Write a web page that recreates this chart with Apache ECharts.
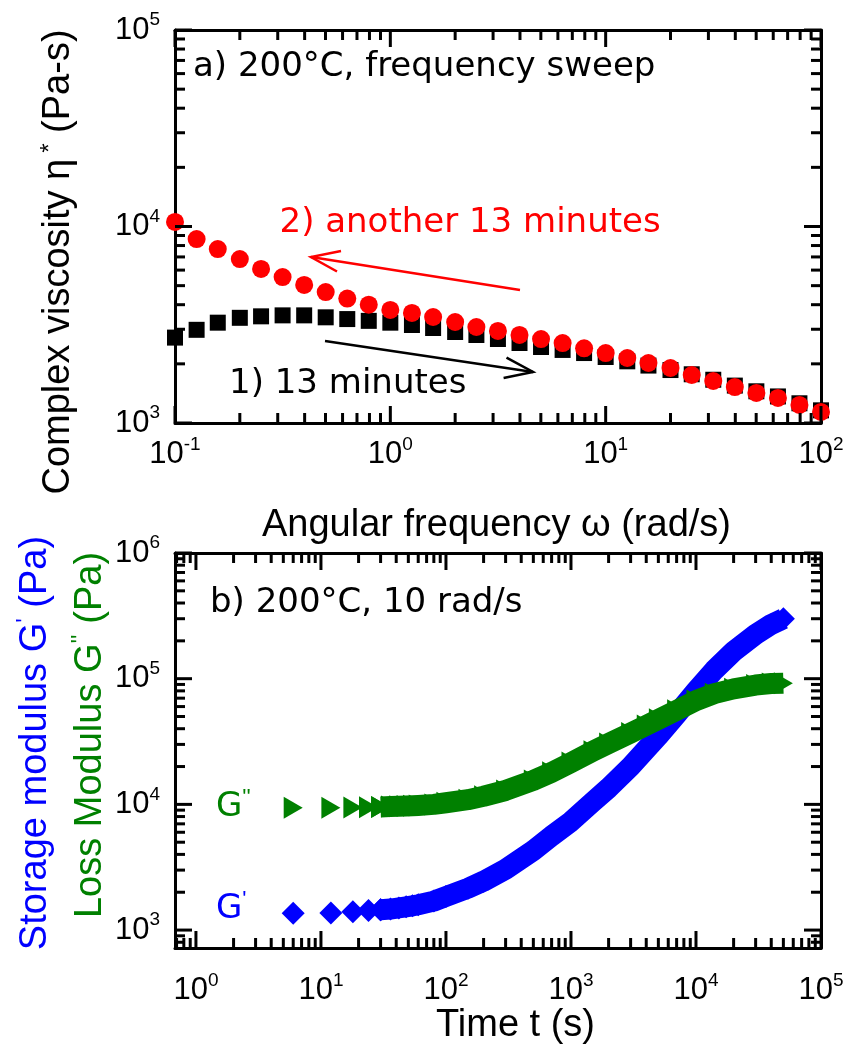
<!DOCTYPE html>
<html><head><meta charset="utf-8">
<script src="https://cdn.jsdelivr.net/npm/echarts@6/dist/echarts.min.js"></script>
<style>html,body{margin:0;padding:0;background:#fff}#c{width:856px;height:1046px}</style>
</head><body><div id="c"></div>
<script>
// ---------- data (a) frequency sweep ----------
const omega = [0.1,0.126,0.158,0.2,0.251,0.316,0.398,0.501,0.631,0.794,1,1.26,1.58,2,2.51,3.16,3.98,5.01,6.31,7.94,10,12.6,15.8,20,25.1,31.6,39.8,50.1,63.1,79.4,100];
const eta13 = [2720,2980,3240,3430,3490,3530,3530,3450,3380,3310,3240,3153,3043,2904,2805,2675,2553,2437,2354,2270,2167,2060,1960,1860,1770,1660,1550,1450,1365,1260,1160];
const etaAnother = [10545,8636,7680,6830,6080,5530,5040,4640,4300,4000,3760,3630,3463,3266,3080,2940,2805,2675,2553,2400,2270,2142,2020,1905,1755,1636,1524,1422,1341,1235,1138];
// ---------- data (b) time sweep ----------
const time = [6,12,18,24,30,36,42,48,54,60,80,100,150,200,300,500,700,1000,1500,2000,3000,4000,5000,7000,10000,14000,20000,30000,40000,50000];
const Gstorage = [1360,1370,1400,1430,1450,1470,1500,1530,1560,1590,1700,1850,2150,2450,3050,4300,5600,7300,10500,13500,20000,27500,35000,52000,80000,117000,165000,225000,270000,300000];
const Gloss = [9400,9400,9450,9500,9550,9600,9650,9700,9750,9800,10000,10300,10900,11600,12900,15500,18000,21500,26500,30500,37000,42500,47500,56000,67000,76000,83000,89000,91500,92000];
// ---------- tick labels ----------
const xTopMajor = [0.1,1,10,100];
const yTopMajor = [1000,10000,100000];
const xBotMajor = [1,10,100,1000,10000,100000];
const yBotMajor = [1000,10000,100000,1000000];
const BAND_START = 4; // index from which dense markers merge into a band

const FONT = '"Liberation Sans", Arial, sans-serif';
const AFONT = '"DejaVu Sans", sans-serif';

function minorTicks(min, max){
  const out = [];
  for (let e = Math.floor(Math.log10(min)); e <= Math.ceil(Math.log10(max)); e++){
    for (let m = 2; m <= 9; m++){
      const v = +(m * Math.pow(10, e)).toPrecision(6);
      if (v >= min && v <= max) out.push(v);
    }
  }
  return out;
}
function supFmt(v){ return '{b|10}{s|' + Math.round(Math.log10(v)) + '}'; }
const richTick = {
  b:{fontSize:31, fontFamily:FONT, color:'#000', lineHeight:31},
  s:{fontSize:19, fontFamily:FONT, color:'#000', lineHeight:19, padding:[0,0,20,0]}
};

function axes(dim, grid, min, max, majors, margin){
  const pos = dim === 'x' ? ['bottom','top'] : ['left','right'];
  return pos.map((p, i) => ({
    type:'log', gridIndex:grid, min:min, max:max, position:p,
    axisLine:{show:true, onZero:false, lineStyle:{color:'#000', width:3}},
    axisTick:{show:false},
    axisLabel:{show:i===0, customValues:majors, formatter:supFmt, rich:richTick, margin:margin},
    splitLine:{show:false}, minorTick:{show:false}, minorSplitLine:{show:false}
  }));
}

const EXT = [
  {grid:0, xmin:0.1, xmax:100, ymin:1000, ymax:100000, xMaj:xTopMajor, yMaj:yTopMajor},
  {grid:1, xmin:0.68, xmax:100000, ymin:720, ymax:1000000, xMaj:xBotMajor, yMaj:yBotMajor}
];
const xAxes = axes('x',0,EXT[0].xmin,EXT[0].xmax,xTopMajor,16).concat(axes('x',1,EXT[1].xmin,EXT[1].xmax,xBotMajor,27));
const yAxes = axes('y',0,EXT[0].ymin,EXT[0].ymax,yTopMajor,15).concat(axes('y',1,EXT[1].ymin,EXT[1].ymax,yBotMajor,15));

const pairs = (xs, ys) => xs.map((x, i) => [x, ys[i]]);
const BLUE = '#0000ff', GREEN = '#008000', RED = '#ff0000';

const series = [
  {type:'scatter', xAxisIndex:0, yAxisIndex:0, data:pairs(omega, eta13), symbol:'rect', symbolSize:16,
   itemStyle:{color:'#000', opacity:1}, z:3},
  {type:'scatter', xAxisIndex:0, yAxisIndex:0, data:pairs(omega, etaAnother), symbol:'circle', symbolSize:18,
   itemStyle:{color:RED, opacity:1}, z:4},
  {type:'scatter', xAxisIndex:2, yAxisIndex:2, data:pairs(time, Gstorage).slice(0, BAND_START+1), symbol:'diamond', symbolSize:23,
   itemStyle:{color:BLUE, opacity:1}, z:3},
  {type:'line', xAxisIndex:2, yAxisIndex:2, data:pairs(time, Gstorage).slice(BAND_START), symbol:'diamond', symbolSize:23,
   showSymbol:true, itemStyle:{color:BLUE, opacity:1}, lineStyle:{color:BLUE, width:21, cap:'butt', join:'round', opacity:1}, z:3},
  {type:'scatter', xAxisIndex:2, yAxisIndex:2, data:pairs(time, Gloss).slice(0, BAND_START+1), symbol:'triangle', symbolSize:[22,19], symbolRotate:-90,
   itemStyle:{color:GREEN, opacity:1}, z:4},
  {type:'line', xAxisIndex:2, yAxisIndex:2, data:pairs(time, Gloss).slice(BAND_START), symbol:'triangle', symbolSize:[22,19], symbolRotate:-90,
   showSymbol:true, itemStyle:{color:GREEN, opacity:1}, lineStyle:{color:GREEN, width:21, cap:'butt', join:'round', opacity:1}, z:4}
];

function txt(x, y, text, opt){
  return Object.assign({type:'text', x:x, y:y, z:100, style:Object.assign({
    text:text, fill:'#000', fontSize:38, fontFamily:FONT,
    align:'left', verticalAlign:'middle', textAlign:'left', textVerticalAlign:'middle'
  }, opt.style || {})}, opt.el || {});
}
function arrow(tail, tip, a1, a2, color){
  return [
    {type:'polyline', z:100, shape:{points:[tail, tip]}, style:{stroke:color, lineWidth:2.5, fill:null}},
    {type:'polyline', z:100, shape:{points:[a1, tip, a2]}, style:{stroke:color, lineWidth:2.5, fill:null}}
  ];
}
const supRich = (size, raise, padL) => ({s:{fontSize:size, fontFamily:FONT, padding:[0,0,raise,padL||0]}});

const graphic = [
  txt(496.5, 525.5, 'Angular frequency ω (rad/s)', {style:{align:'center', textAlign:'center'}}),
  txt(515.5, 1025.5, 'Time t (s)', {style:{align:'center', textAlign:'center'}}),
  txt(59, 262, 'Complex viscosity η{s|*} (Pa-s)', {el:{rotation:Math.PI/2}, style:{align:'center', textAlign:'center', rich:supRich(24,18,6)}}),
  txt(35.5, 743, 'Storage modulus G{s|\'} (Pa)', {el:{rotation:Math.PI/2}, style:{fill:BLUE, align:'center', textAlign:'center', rich:supRich(24,18)}}),
  txt(90.5, 735, 'Loss Modulus G{s|\'\'} (Pa)', {el:{rotation:Math.PI/2}, style:{fill:GREEN, align:'center', textAlign:'center', rich:supRich(24,18)}}),
  txt(193, 67, 'a) 200°C, frequency sweep', {style:{fontFamily:AFONT, fontSize:34}}),
  txt(279.5, 223, '2) another 13 minutes', {style:{fontFamily:AFONT, fontSize:34, fill:RED}}),
  txt(229, 384, '1) 13 minutes', {style:{fontFamily:AFONT, fontSize:34}}),
  txt(210, 603, 'b) 200°C, 10 rad/s', {style:{fontFamily:AFONT, fontSize:34}}),
  txt(216, 807, 'G{s|\'\'}', {style:{fontFamily:AFONT, fontSize:34, fill:GREEN, rich:supRich(22,18)}}),
  txt(216, 909, 'G{s|\'}', {style:{fontFamily:AFONT, fontSize:34, fill:BLUE, rich:supRich(22,18)}})
].concat(
  arrow([520,290],[311,257],[341,251],[337,271.5],RED),
  arrow([325,341],[533,372],[506.5,357.7],[503.6,378],'#000')
);

const chart = echarts.init(document.getElementById('c'), null, {renderer:'canvas'});
chart.setOption({
  animation:false,
  backgroundColor:'#fff',
  grid:[
    {left:175, top:30, width:646, height:393, containLabel:false, outerBoundsMode:'none'},
    {left:175, top:553, width:646, height:395, containLabel:false, outerBoundsMode:'none'}
  ],
  xAxis:xAxes, yAxis:yAxes, series:series, graphic:graphic
});

// inward tick marks on all four sides, positioned through the axes' own log scales
const MAJ = 17, MIN = 10;
const ticks = [];
EXT.forEach(e => {
  const px = (x, y) => chart.convertToPixel({gridIndex:e.grid}, [x, y]);
  const seg = (p, dx, dy) => ticks.push({type:'line', z:60, silent:true,
    shape:{x1:p[0], y1:p[1], x2:p[0] + dx, y2:p[1] + dy}, style:{stroke:'#000', lineWidth:3}});
  const xs = e.xMaj.map(v => [v, MAJ]).concat(minorTicks(e.xmin, e.xmax).map(v => [v, MIN]));
  const ys = e.yMaj.map(v => [v, MAJ]).concat(minorTicks(e.ymin, e.ymax).map(v => [v, MIN]));
  xs.forEach(([v, L]) => { seg(px(v, e.ymin), 0, -L); seg(px(v, e.ymax), 0, L); });
  ys.forEach(([v, L]) => { seg(px(e.xmin, v), L, 0); seg(px(e.xmax, v), -L, 0); });
});
chart.setOption({graphic: graphic.concat(ticks)});
</script></body></html>
